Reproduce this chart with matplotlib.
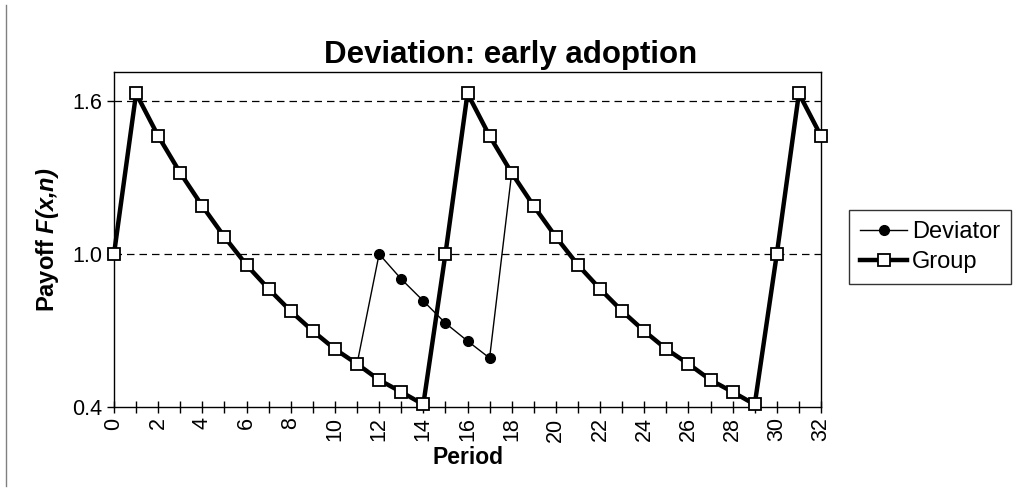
import numpy as np
import matplotlib
matplotlib.use("Agg")
from matplotlib import pyplot as plt
from matplotlib.lines import Line2D

plt.rcParams['font.family'] = ['Liberation Sans', 'DejaVu Sans']
plt.rcParams['mathtext.fontset'] = 'custom'
plt.rcParams['mathtext.bfit'] = 'Liberation Sans:italic:bold'
plt.rcParams['mathtext.rm'] = 'Liberation Sans'

# data
group_period = list(range(0, 33))
group_payoff = [1.00, 1.63, 1.463, 1.318, 1.188, 1.067, 0.957, 0.863, 0.776, 0.698,
                0.627, 0.569, 0.506, 0.459, 0.410,
                1.00, 1.63, 1.463, 1.318, 1.188, 1.067, 0.957, 0.863, 0.776, 0.698,
                0.627, 0.569, 0.506, 0.459, 0.410,
                1.00, 1.63, 1.463]
dev_period = [11, 12, 13, 14, 15, 16, 17, 18]
dev_payoff = [0.569, 1.00, 0.902, 0.816, 0.729, 0.659, 0.592, 1.318]
xticks = list(range(0, 33, 2))
yticks = [0.4, 1.0, 1.6]

fig = plt.figure(figsize=(10.14, 4.92), dpi=100)
ax = fig.add_axes([114/1014, 1 - 407/492, 707/1014, 335/492])

ax.plot(dev_period, dev_payoff, color='black', lw=1, marker='o', ms=7,
        markevery=slice(1, -1), zorder=2)
ax.plot(group_period, group_payoff, color='black', lw=3.2, marker='s', ms=9,
        mfc='white', mec='black', mew=1.3, zorder=3, clip_on=False)

for y in yticks[1:]:
    ax.axhline(y, color='black', lw=0.9, ls=(0, (6, 4)), zorder=1)

ax.set_xlim(0, 32)
ax.set_ylim(0.4, 1.714)
ax.set_xticks(xticks)
ax.set_xticks(range(0, 33), minor=True)
ax.set_xticklabels([str(t) for t in xticks], rotation=90)
ax.set_yticks(yticks)
ax.set_yticklabels(['%.1f' % t for t in yticks])
ax.tick_params(axis='x', which='both', direction='inout', length=9, width=1, labelsize=15.5, pad=3)
ax.tick_params(axis='y', direction='out', length=5, width=1, labelsize=15.5)
for s in ax.spines.values():
    s.set_linewidth(1)

ax.set_xlabel('Period', fontsize=16.5, fontweight='bold', labelpad=3)
ax.set_ylabel('Payoff $\\mathbfit{F(x{,}n)}$', fontsize=17, fontweight='bold', labelpad=8)
fig.text(511/1014, 1 - 63/492, 'Deviation: early adoption', fontsize=22.5,
         fontweight='bold', ha='center', va='baseline')

handles = [Line2D([], [], color='black', lw=1, marker='o', ms=7),
           Line2D([], [], color='black', lw=3.2, marker='s', ms=9, mfc='white', mew=1.3)]
leg = fig.legend(handles, ['Deviator', 'Group'], loc='center',
                 bbox_to_anchor=(930/1014, 1 - 247/492), fontsize=17, frameon=True,
                 fancybox=False, edgecolor='black', handlelength=2.0, handletextpad=0.2,
                 borderpad=0.45, labelspacing=0.35)
leg.get_frame().set_linewidth(1)

fig.add_artist(Line2D([6/1014, 6/1014], [1 - 5/492, 1 - 486/492], color='#808080', lw=1))

fig.savefig('out.png', dpi=100)
